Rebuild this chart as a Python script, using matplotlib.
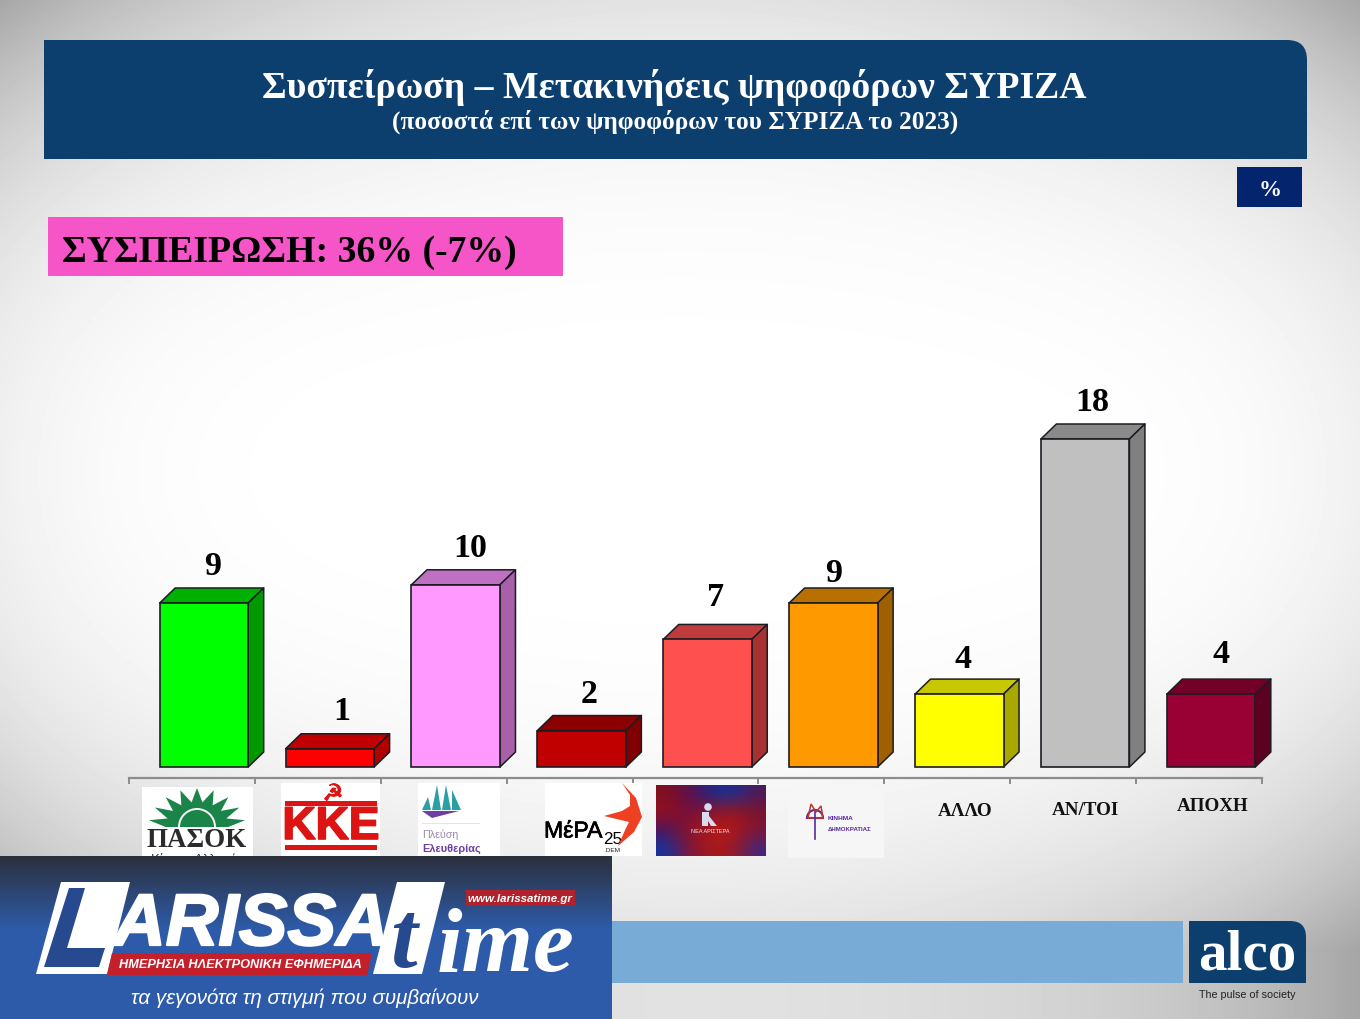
import numpy as np
import matplotlib
matplotlib.use("Agg")
import matplotlib.pyplot as plt
import matplotlib.patheffects as pe
from matplotlib.patches import Polygon, Rectangle, PathPatch, Circle, Wedge
from matplotlib.path import Path

# ---------- data ----------
categories = ["ΠΑΣΟΚ", "ΚΚΕ", "Πλεύση Ελευθερίας", "ΜέΡΑ25", "Νέα Αριστερά",
              "Κίνημα Δημοκρατίας", "ΑΛΛΟ", "ΑΝ/ΤΟΙ", "ΑΠΟΧΗ"]
values = [9, 1, 10, 2, 7, 9, 4, 18, 4]
text_categories = ["ΑΛΛΟ", "ΑΝ/ΤΟΙ", "ΑΠΟΧΗ"]
title_text = "Συσπείρωση – Μετακινήσεις ψηφοφόρων ΣΥΡΙΖΑ"
subtitle_text = "(ποσοστά επί των ψηφοφόρων του ΣΥΡΙΖΑ το 2023)"
cohesion_text = "ΣΥΣΠΕΙΡΩΣΗ: 36% (-7%)"

# ---------- styles ----------
front_colors = ["#00ff00", "#ff0000", "#ff99ff", "#c00000", "#ff5050",
                "#ff9900", "#ffff00", "#c0c0c0", "#990033"]
top_colors = ["#00b000", "#c00000", "#c070c0", "#8b0000", "#c03c3c",
              "#b87000", "#c8c800", "#8a8a8a", "#730026"]
side_colors = ["#009900", "#b00000", "#a860a8", "#800000", "#a83232",
               "#a06000", "#a8a800", "#808080", "#5e001f"]
label_dx_px = [9, 11.5, 14, 7.5, 8.5, 0.5, 4, 7, 10]
label_dy_px = [37, 38, 37, 37, 43, 30, 36, 37, 41]
NAVY = "#0d3f6e"
SERIF = ["Liberation Serif", "DejaVu Serif"]
SANS = ["Liberation Sans", "DejaVu Sans"]
W, H = 1360, 1020


def fs(px):
    return px * 0.72


fig = plt.figure(figsize=(W / 100, H / 100), dpi=100)

# ---------- background layer (pixel coordinates) ----------
bg = fig.add_axes([0, 0, 1, 1], zorder=0)
yy, xx = np.mgrid[0:H:4, 0:W:4]
u = np.abs(xx - 680) / 680
v = np.minimum(np.abs(yy - 470) / 530, 0.9)
dark = 0.16 * v ** 3 + 0.22 * (u * v) ** 2 + 0.06 * u ** 6
bg.imshow(1 - dark, cmap="gray", vmin=0, vmax=1, extent=(0, W, H, 0),
          aspect="auto", interpolation="bilinear")
bg.set_xlim(0, W)
bg.set_ylim(H - 1, -1)
bg.axis("off")


def rounded_tr(ax, x0, y0, x1, y1, r, color, zorder=2):
    verts = [(x0, y0), (x1 - r, y0), (x1, y0), (x1, y0 + r), (x1, y1), (x0, y1), (x0, y0)]
    codes = [Path.MOVETO, Path.LINETO, Path.CURVE3, Path.CURVE3, Path.LINETO, Path.LINETO, Path.CLOSEPOLY]
    ax.add_patch(PathPatch(Path(verts, codes), fc=color, ec="none", zorder=zorder))


rounded_tr(bg, 44, 40, 1307, 159, 20, NAVY)
bg.text(674, 87, title_text, color="white", family=SERIF, weight="bold",
        fontsize=fs(37.7), ha="center", va="center", zorder=3)
bg.text(675, 121, subtitle_text, color="white", family=SERIF, weight="bold",
        fontsize=fs(25.2), ha="center", va="center", zorder=3)
bg.add_patch(Rectangle((1237, 167), 65, 40, fc="#04246e", ec="none", zorder=2))
bg.text(1270, 189, "%", color="white", family=SERIF, weight="bold", fontsize=fs(23),
        ha="center", va="center", zorder=3)
bg.add_patch(Rectangle((48, 217), 515, 59, fc="#f655c8", ec="none", zorder=2))
bg.text(62, 251, cohesion_text, color="black", family=SERIF, weight="bold",
        fontsize=fs(37.8), ha="left", va="center", zorder=3)
bg.add_patch(Rectangle((612, 921), 571, 62, fc="#78abd5", ec="none", zorder=2))
rounded_tr(bg, 1189, 921, 1306, 983, 16, NAVY)
bg.text(1247, 955, "alco", color="white", family=SERIF, weight="bold", fontsize=fs(57),
        ha="center", va="center", zorder=3)
bg.text(1247, 994, "The pulse of society", color="#222222", family=SANS, fontsize=fs(10.8),
        ha="center", va="center", zorder=3)

# ---------- chart axes ----------
AX_L, AX_R, AX_B = 129, 1262, 779
BASE_PX = 768
PX_PER_VALUE = (768 - 440) / 18
y_min = -(AX_B - BASE_PX) / PX_PER_VALUE
y_max = 20
AX_T = BASE_PX - y_max * PX_PER_VALUE
ax = fig.add_axes([AX_L / W, 1 - AX_B / H, (AX_R - AX_L) / W, (AX_B - AX_T) / H], zorder=1)
ax.patch.set_alpha(0)
n = len(categories)
ax.set_xlim(-0.5, n - 0.5)
ax.set_ylim(y_min, y_max)
px_per_x = (AX_R - AX_L) / n

bar_w = 88.5 / px_per_x
shift = 12 / px_per_x
dx = 15.5 / px_per_x
dy = 15 / PX_PER_VALUE
EDGE = "#1c1c24"
for i, val in enumerate(values):
    xc = i + shift
    l, r = xc - bar_w / 2, xc + bar_w / 2
    ax.add_patch(Polygon([(l, val), (r, val), (r + dx, val + dy), (l + dx, val + dy)], closed=True,
                         fc=top_colors[i], ec=EDGE, lw=1.1, joinstyle="round", zorder=2, clip_on=False))
    ax.add_patch(Polygon([(r, 0), (r + dx, dy), (r + dx, val + dy), (r, val)], closed=True,
                         fc=side_colors[i], ec=EDGE, lw=1.1, joinstyle="round", zorder=2, clip_on=False))
    ax.bar(xc, val, width=bar_w, color=front_colors[i], edgecolor=EDGE, linewidth=1.2, zorder=3)
    ax.annotate(str(val), xy=(xc, val), xytext=(label_dx_px[i] * 0.72, label_dy_px[i] * 0.72),
                textcoords="offset points", ha="center", va="center", family=SERIF,
                weight="bold", fontsize=fs(34), color="black", zorder=4)

for s in ("top", "left", "right"):
    ax.spines[s].set_visible(False)
ax.spines["bottom"].set_color("#8c8c8c")
ax.spines["bottom"].set_linewidth(1.6)
ax.set_yticks([])
ax.set_xticks(np.arange(-0.5, n, 1))
ax.set_xticklabels([])
ax.tick_params(axis="x", direction="out", length=4.5, width=1.4, color="#8c8c8c")

# ---------- logos and labels layer (pixel coordinates) ----------
ov = fig.add_axes([0, 0, 1, 1], zorder=2)
ov.patch.set_alpha(0)
ov.axis("off")

label_pos = {"ΑΛΛΟ": (965, 811), "ΑΝ/ΤΟΙ": (1085, 810), "ΑΠΟΧΗ": (1213, 806)}
for name in text_categories:
    px, py = label_pos[name]
    ov.text(px, py, name, family=SERIF, weight="bold", fontsize=fs(19), ha="center",
            va="center", color="#111111")

# PASOK
ov.add_patch(Rectangle((142, 787), 111, 69, fc="white", ec="none", zorder=1))
green = "#1a8449"
cx, cy, rays = 197, 827, 9
angles = np.linspace(np.pi, 0, 2 * rays + 1)
radii = np.where(np.arange(2 * rays + 1) % 2 == 1, 39, 25)
star = [(cx + 48, cy)] + [(cx + 1.25 * r * np.cos(a), cy - r * np.sin(a))
                          for a, r in zip(angles[::-1], radii[::-1])] + [(cx - 48, cy)]
ov.add_patch(Polygon(star, closed=True, fc=green, ec="none", zorder=2))
ov.add_patch(Wedge((cx, cy), 19, 180, 360, fc="#f4f8f5", ec="none", zorder=3))
ov.add_patch(Wedge((cx, cy), 17, 180, 360, fc=green, ec="none", zorder=3))
ov.text(197, 840, "ΠΑΣΟΚ", family=SERIF, weight="bold", fontsize=fs(27), ha="center",
        va="center", color="#2b2b2b", zorder=4)
ov.text(197, 859, "Κίνημα Αλλαγής", family=SANS, fontsize=fs(13), ha="center",
        va="center", color="#333333", zorder=4)

# KKE
kred = "#dc1414"
ov.add_patch(Rectangle((281, 783), 99, 73, fc="white", ec="none", zorder=1))
ov.add_patch(Rectangle((285, 801), 92, 5, fc=kred, ec="none", zorder=2))
ov.add_patch(Rectangle((285, 845), 92, 5, fc=kred, ec="none", zorder=2))
ov.text(331, 827, "ΚΚΕ", family=SANS, weight="bold", fontsize=fs(46), ha="center",
        va="center", color=kred, zorder=3,
        path_effects=[pe.withStroke(linewidth=1.2, foreground=kred)])
ov.text(333, 794, "☭", family=["DejaVu Sans"], fontsize=fs(23), ha="center", va="center",
        color=kred, zorder=3, path_effects=[pe.withStroke(linewidth=0.8, foreground=kred)])

# Plefsi
ov.add_patch(Rectangle((418, 783), 82, 73, fc="white", ec="none", zorder=1))
teal = "#2b9fa8"
sails = [[(422, 810), (428, 797), (431, 810)], [(432, 810), (437, 785), (441, 810)],
         [(442, 810), (446, 785), (451, 810)], [(452, 810), (452, 790), (461, 810)]]
for s in sails:
    ov.add_patch(Polygon(s, closed=True, fc=teal, ec="none", zorder=2))
ov.add_patch(Polygon([(422, 811), (459, 811), (432, 818)], closed=True, fc="#6c3fa5", ec="none", zorder=2))
ov.add_patch(Rectangle((422, 823), 58, 1, fc="#e4e4e4", ec="none", zorder=2))
ov.text(422, 834, "Πλεύση", family=SANS, fontsize=fs(10.8), ha="left", va="center",
        color="#9a8ab0", zorder=3)
ov.text(422, 848, "Ελευθερίας", family=SANS, weight="bold", fontsize=fs(11), ha="left",
        va="center", color="#6c3fa5", zorder=3)

# MeRA25
ov.add_patch(Rectangle((545, 783), 97, 73, fc="white", ec="none", zorder=1))
ov.text(544, 831, "ΜέΡΑ", family=SANS, fontsize=fs(23), ha="left", va="center",
        color="black", zorder=3, path_effects=[pe.withStroke(linewidth=0.5, foreground="black")])
ov.text(603, 839, "25", family=SANS, fontsize=fs(17), ha="left", va="center",
        color="black", zorder=3)
ov.text(604, 850, ".DEM", family=SANS, fontsize=fs(6.5), ha="left", va="center",
        color="#222222", zorder=3)
ov.add_patch(Polygon([(622, 783), (636, 798), (642, 817), (634, 832), (618, 846), (626, 828),
                      (629, 822), (604, 816), (622, 811), (630, 806), (630, 795)], closed=True,
                     fc="#ee4023", ec="none", zorder=3))

# Nea Aristera
grid = np.array([
    [[.50, .06, .12], [.38, .06, .30], [.10, .16, .55], [.08, .20, .60], [.30, .10, .35]],
    [[.60, .06, .10], [.45, .06, .25], [.55, .08, .15], [.62, .08, .10], [.48, .08, .18]],
    [[.30, .08, .38], [.55, .07, .14], [.72, .10, .10], [.70, .10, .10], [.50, .08, .20]],
    [[.08, .20, .62], [.50, .08, .22], [.66, .10, .10], [.62, .10, .12], [.25, .15, .50]],
])
ov.imshow(grid, extent=(656, 766, 856, 785), aspect="auto", interpolation="bicubic", zorder=1)
fig_col = "#d9dcf0"
ov.add_patch(Circle((708, 807), 3.8, fc=fig_col, ec="none", zorder=2))
ov.add_patch(Polygon([(702, 812), (709, 812), (709, 816), (717, 826), (711, 826), (708, 821),
                      (708, 826), (702, 826)], closed=True, fc=fig_col, ec="none", zorder=2))
ov.text(710, 831, "ΝΕΑ ΑΡΙΣΤΕΡΑ", family=SANS, fontsize=fs(5.5), ha="center", va="center",
        color="#e8e8f4", zorder=2)

# Kinima Dimokratias
ov.add_patch(Rectangle((788, 787), 96, 71, fc="#f6f6f6", ec="none", zorder=1))
purple = "#5a2a9c"
ov.add_patch(Wedge((815, 818), 8, 180, 360, fc="none", ec=purple, lw=1.5, zorder=2))
ov.add_patch(Polygon([(808, 818), (811, 804), (816, 812), (821, 806), (823, 818)], closed=True,
                     fc="none", ec="#c0392b", lw=1.1, zorder=2))
ov.plot([815, 815], [812, 839], color=purple, lw=1.2, zorder=2)
ov.text(828, 818, "ΚΙΝΗΜΑ", family=SANS, weight="bold", fontsize=fs(6.5), ha="left",
        va="center", color=purple, zorder=2)
ov.text(828, 829, "ΔΗΜΟΚΡΑΤΙΑΣ", family=SANS, weight="bold", fontsize=fs(6.2), ha="left",
        va="center", color=purple, zorder=2)

# Larissa Time banner
banner = np.linspace(0, 1, 80)[:, None]
top_c, bottom_c = np.array([.17, .19, .24]), np.array([.18, .36, .67])
mid = np.clip(banner / 0.45, 0, 1)
ov.imshow(top_c[None, None, :] * (1 - mid[:, :, None]) + bottom_c[None, None, :] * mid[:, :, None],
          extent=(0, 612, 1020, 856), aspect="auto", zorder=10)
ov.add_patch(Polygon([(61, 882), (130, 882), (107, 974), (36, 974)], closed=True, fc="white", ec="none", zorder=11))
ov.add_patch(Polygon([(69, 888), (85, 888), (67, 948), (105, 948), (99, 967), (44, 967)], closed=True,
                     fc="#27498f", ec="none", zorder=12))
ov.text(113, 945, "ARISSA", family=SANS, weight="bold", style="italic", fontsize=fs(73),
        ha="left", va="baseline", color="white", zorder=13,
        path_effects=[pe.withStroke(linewidth=1.6, foreground="white")])
ov.add_patch(Polygon([(112, 953), (372, 953), (367, 975), (107, 975)], closed=True, fc="#c4202c", ec="none", zorder=13))
ov.text(240, 964, "ΗΜΕΡΗΣΙΑ ΗΛΕΚΤΡΟΝΙΚΗ ΕΦΗΜΕΡΙΔΑ", family=SANS, weight="bold", style="italic",
        fontsize=fs(12.8), ha="center", va="center", color="white", zorder=14)
ov.add_patch(Polygon([(397, 882), (445, 882), (422, 974), (373, 974)], closed=True, fc="white", ec="none", zorder=13))
ov.text(390, 966, "t", family=SERIF, weight="bold", style="italic", fontsize=fs(96), ha="left",
        va="baseline", color="#27498f", zorder=14)
ov.text(437, 970, "ime", family=SERIF, weight="bold", style="italic", fontsize=fs(92), ha="left",
        va="baseline", color="white", zorder=14)
ov.add_patch(Rectangle((466, 890), 109, 16, fc="#b0232c", ec="none", zorder=15))
ov.text(520, 898, "www.larissatime.gr", family=SANS, weight="bold", style="italic", fontsize=fs(11.5),
        ha="center", va="center", color="white", zorder=16)
ov.text(305, 997, "τα γεγονότα τη στιγμή που συμβαίνουν", family=SANS, style="italic", fontsize=fs(20.5),
        ha="center", va="center", color="white", zorder=14)

ov.set_xlim(0, W)
ov.set_ylim(H - 1, -1)

fig.savefig("out.png", dpi=100)
